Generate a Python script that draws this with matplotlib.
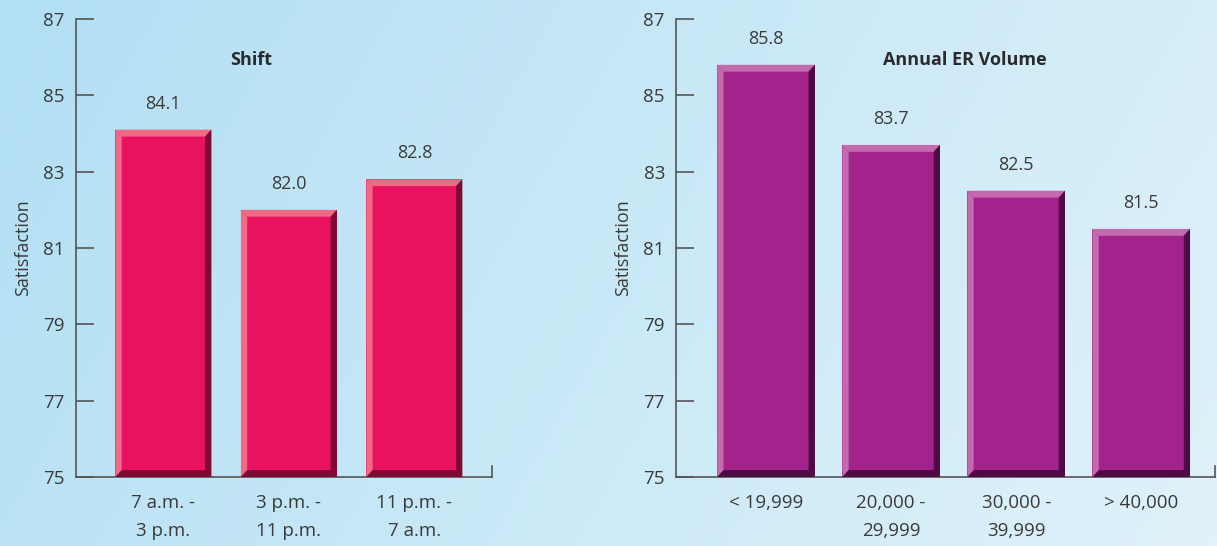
import numpy as np
import matplotlib.pyplot as plt
from matplotlib.patches import Polygon

plt.rcParams['font.family'] = ['Open Sans', 'DejaVu Sans']

# data
shift_labels = ['7 a.m. -\n3 p.m.', '3 p.m. -\n11 p.m.', '11 p.m. -\n7 a.m.']
shift_values = [84.1, 82.0, 82.8]
vol_labels = ['< 19,999', '20,000 -\n29,999', '30,000 -\n39,999', '> 40,000']
vol_values = [85.8, 83.7, 82.5, 81.5]
yticks = [75, 77, 79, 81, 83, 85, 87]

text_col = '#3a3a3a'
axis_col = '#555555'

fig = plt.figure(figsize=(12.17, 5.46), dpi=100)

# background gradient
bg = fig.add_axes([0, 0, 1, 1], zorder=-10)
gx = np.linspace(0, 1, 256)
gy = np.linspace(0, 1, 64)
GX, GY = np.meshgrid(gx, gy)
t = np.clip(0.8 * GX + 0.2 * GY, 0, 1)
c0 = np.array([178, 223, 244]) / 255
c1 = np.array([224, 242, 250]) / 255
img = c0[None, None, :] * (1 - t[..., None]) + c1[None, None, :] * t[..., None]
bg.imshow(img, aspect='auto', extent=[0, 1, 0, 1], origin='upper')
bg.axis('off')


def bevel_bars(ax, values, width, main, light, dark, dx, dy, base=75):
    for i, v in enumerate(values):
        x0, x1 = i - width / 2, i + width / 2
        ax.bar(i, v - base, bottom=base, width=width, color=main, zorder=2)
        # left strip
        ax.add_patch(Polygon([(x0, base), (x0 + dx, base + dy), (x0 + dx, v - dy), (x0, v)],
                             closed=True, color=light, lw=0, zorder=3))
        # top strip
        ax.add_patch(Polygon([(x0, v), (x1, v), (x1 - dx, v - dy), (x0 + dx, v - dy)],
                             closed=True, color=light, lw=0, zorder=3))
        # right strip
        ax.add_patch(Polygon([(x1, v), (x1, base), (x1 - dx, base + dy), (x1 - dx, v - dy)],
                             closed=True, color=dark, lw=0, zorder=3))
        # bottom strip
        ax.add_patch(Polygon([(x0, base), (x1, base), (x1 - dx, base + dy), (x0 + dx, base + dy)],
                             closed=True, color=dark, lw=0, zorder=3))
        ax.text(i, v + 0.45, f'{v:.1f}', ha='center', va='bottom', fontsize=13, color=text_col)


def style_axis(ax, labels, xlim, title, title_x):
    ax.set_facecolor('none')
    ax.set_ylim(75, 87)
    ax.set_xlim(*xlim)
    ax.set_yticks(yticks)
    ax.set_xticks(range(len(labels)))
    ax.set_xticklabels(labels, linespacing=1.75)
    ax.tick_params(axis='y', direction='in', length=13, width=1.2, color=axis_col,
                   labelsize=13.5, labelcolor=text_col, pad=8)
    ax.tick_params(axis='x', length=0, labelsize=13.5, labelcolor=text_col, pad=12)
    ax.spines['top'].set_visible(False)
    for s in ['left', 'bottom', 'right']:
        ax.spines[s].set_color(axis_col)
        ax.spines[s].set_linewidth(1.2)
    ax.spines['right'].set_bounds(75, 75.3)
    ax.set_ylabel('Satisfaction', fontsize=13, color=text_col, labelpad=8)
    ax.text(title_x, 0.91, title, transform=ax.transAxes, ha='center', va='center',
            fontsize=13, fontweight='bold', color='#2a2a2a')


ax1 = fig.add_axes([0.0624, 0.1264, 0.3418, 0.8388])
bevel_bars(ax1, shift_values, 0.765, '#e8125f', '#f06a86', '#7c0a32', 0.05, 0.18)
style_axis(ax1, shift_labels, (-0.697, 2.618), 'Shift', 0.42)

ax2 = fig.add_axes([0.5555, 0.1264, 0.4429, 0.8388])
bevel_bars(ax2, vol_values, 0.78, '#a3228c', '#c46bb0', '#4e0a45', 0.05, 0.18)
style_axis(ax2, vol_labels, (-0.72, 3.59), 'Annual ER Volume', 0.535)

fig.savefig('out.png', dpi=100)
